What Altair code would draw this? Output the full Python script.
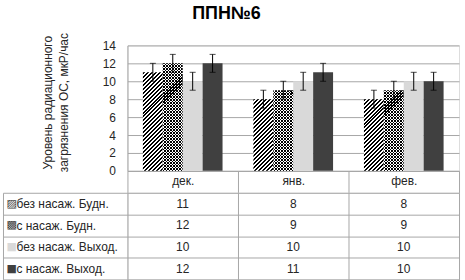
import altair as alt
import pandas as pd

# ---------------- data ----------------
months = ["дек.", "янв.", "фев."]
series = ["без насаж. Будн.", "с насаж. Будн.", "без насаж. Выход.", "с насаж. Выход."]
s1_vals = [11, 8, 8]
s2_vals = [12, 9, 9]
s3_vals = [10, 10, 10]
s4_vals = [12, 11, 10]
s1_err = [1, 1, 1]
s2_err = [1, 1, 1]
s3_err = [1, 1, 1]
s4_err = [1, 1, 1]
y_ticks = [0, 2, 4, 6, 8, 10, 12, 14]

rows = []
for s, vals, errs in zip(series, [s1_vals, s2_vals, s3_vals, s4_vals],
                         [s1_err, s2_err, s3_err, s4_err]):
    for m, v, e in zip(months, vals, errs):
        rows.append({"month": m, "series": s, "value": v, "lo": v - e, "hi": v + e})
df = pd.DataFrame(rows)

# ---------------- styles ----------------
FONT = "Liberation Sans"
TXT = "#262626"
GRID = "#a6a6a6"
PLOT_W = 333
PLOT_H = 126
HEAD_H = 22
TABLE_H = 87
YMAX = 14
PX = PLOT_H / YMAX
BAR_W = 20


def stripes(w, h, period, ink, paper, duty=0.5, back=False):
    """Linear gradient imitating diagonal hatch on a w x h rect."""
    D = w * w + h * h
    a = w * (w + h) / D
    b = h * (w + h) / D
    if back:
        x1, y1, x2, y2 = 1, 0, 1 - a, b
    else:
        x1, y1, x2, y2 = 0, 0, a, b
    L = w + h
    stops = []
    k = 0
    while k * period < L:
        t0 = min(k * period / L, 1)
        t1 = min((k + duty) * period / L, 1)
        t2 = min((k + 1) * period / L, 1)
        stops += [
            {"offset": t0, "color": ink},
            {"offset": t1, "color": ink},
            {"offset": t1, "color": paper},
            {"offset": t2, "color": paper},
        ]
        k += 1
    return {"gradient": "linear", "x1": x1, "y1": y1, "x2": x2, "y2": y2, "stops": stops}


fill_conds = []
for v in sorted(set(s1_vals)):
    fill_conds.append({"test": f"datum.series === '{series[0]}' && datum.value === {v}",
                       "value": stripes(BAR_W, v * PX, 4, "#000000", "#ffffff")})
for v in sorted(set(s2_vals)):
    fill_conds.append({"test": f"datum.series === '{series[1]}' && datum.value === {v}",
                       "value": stripes(BAR_W, v * PX, 3, "#000000", "#ffffff", duty=0.35)})
fill_conds.append({"test": f"datum.series === '{series[2]}'", "value": "#d9d9d9"})

over_conds = []
for v in sorted(set(s2_vals)):
    over_conds.append({"test": f"datum.value === {v}",
                       "value": stripes(BAR_W, v * PX, 3, "#000000", "rgba(0,0,0,0)",
                                        duty=0.35, back=True)})

xscale = alt.Scale(domain=months, paddingInner=0, paddingOuter=0)
xoff = alt.XOffset("series:N", scale=alt.Scale(domain=series, paddingInner=0, paddingOuter=0.775))

xax = alt.Axis(title=None, labelAngle=0, tickBand="extent", tickSize=HEAD_H, tickColor=GRID,
               domainColor=GRID, labelPadding=-17, labelFontSize=12, labelColor=TXT,
               labelFont=FONT, grid=False)
yax = alt.Axis(values=y_ticks, title=["Уровень радиационного", "загрязнения ОС, мкР/час"],
               titleFontSize=12, titleFontWeight="normal", titleFont=FONT, titleColor=TXT,
               titleLineHeight=16, titlePadding=32, titleY=57,
               labelFontSize=12, labelFont=FONT, labelColor=TXT, labelPadding=12,
               ticks=False, domain=True, domainColor=GRID, grid=True, gridColor=GRID)
yscale = alt.Scale(domain=[0, YMAX], nice=False)

X = alt.X("month:N", sort=months, scale=xscale, axis=xax)
base = alt.Chart(df)

bars = base.mark_bar().encode(
    x=X, xOffset=xoff,
    y=alt.Y("value:Q", scale=yscale, axis=yax),
    fill=alt.FillValue("#404040", condition=fill_conds),
)
over = base.transform_filter(f"datum.series === '{series[1]}'").mark_bar().encode(
    x=X, xOffset=xoff,
    y=alt.Y("value:Q", scale=yscale, axis=yax),
    fill=alt.FillValue("rgba(0,0,0,0)", condition=over_conds),
)
err = base.mark_rule(color="#000000", strokeWidth=1).encode(
    x=X, xOffset=xoff,
    y=alt.Y("lo:Q", scale=yscale, axis=yax), y2="hi:Q",
)
cap_hi = base.mark_tick(color="#000000", thickness=1, size=6).encode(
    x=X, xOffset=xoff, y=alt.Y("hi:Q", scale=yscale, axis=yax),
)
cap_lo = base.mark_tick(color="#000000", thickness=1, size=6).encode(
    x=X, xOffset=xoff, y=alt.Y("lo:Q", scale=yscale, axis=yax),
)

top = alt.layer(bars, over, err, cap_hi, cap_lo).properties(
    width=PLOT_W, height=PLOT_H,
    title=alt.TitleParams("ППН№6", fontSize=18, fontWeight="bold", font=FONT, color="#000000",
                          anchor="middle", frame="group", dx=-67, offset=10),
)

# ---------------- data table ----------------
swatch_expr = (f"datum.value === '{series[0]}' ? '▨' : "
               f"datum.value === '{series[1]}' ? '▩' : '■'")

tx = alt.X("month:N", sort=months, scale=alt.Scale(domain=months, paddingInner=0, paddingOuter=0),
           axis=alt.Axis(title=None, labels=False, ticks=False, domain=False, grid=True,
                         tickBand="extent", gridColor=GRID))
ty_scale = alt.Scale(domain=series, paddingInner=0, paddingOuter=0)

cells = alt.Chart(df).mark_text(fontSize=12, font=FONT, color=TXT).encode(
    x=tx,
    y=alt.Y("series:N", sort=series, scale=ty_scale,
            axis=alt.Axis(title=None, orient="left", grid=True, gridColor=GRID,
                          tickBand="extent", tickSize=125, tickColor=GRID, domain=False,
                          labelAlign="left", labelPadding=-13, labelFontSize=12,
                          labelFont=FONT, labelColor=TXT, labelLimit=200)),
    text="value:Q",
)
swatch = alt.Chart(df).mark_text(text="", opacity=0).encode(
    y=alt.Y("series:N", sort=series, scale=ty_scale,
            axis=alt.Axis(title=None, orient="left", offset=125, domain=True,
                          domainColor=GRID, ticks=False, grid=False, labelExpr=swatch_expr,
                          labelAlign="left", labelPadding=-3, labelFontSize=11,
                          labelFont="DejaVu Sans",
                          labelColor={"condition": {"test": f"datum.value === '{series[2]}'",
                                                    "value": "#d9d9d9"},
                                      "value": "#404040"})),
)
table = alt.layer(cells, swatch).resolve_axis(y="independent").properties(
    width=PLOT_W, height=TABLE_H)

chart = alt.vconcat(top, table, spacing=HEAD_H, bounds="flush").properties(
    padding={"left": 2, "top": 3, "right": 5, "bottom": 1},
).configure_view(stroke=None).configure(font=FONT, background="white")

chart.save("out.html", embed_options={"renderer": "svg", "actions": False})
